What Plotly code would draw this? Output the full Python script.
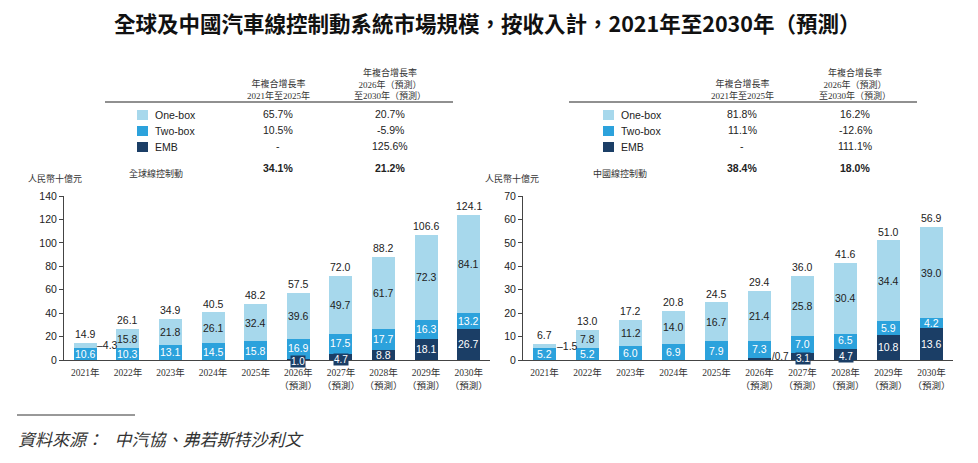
import plotly.graph_objects as go

years = ['2021年', '2022年', '2023年', '2024年', '2025年',
         '2026年<br>（預測）', '2027年<br>（預測）', '2028年<br>（預測）',
         '2029年<br>（預測）', '2030年<br>（預測）']

# 全球 (global), RMB bn
global_onebox = [4.3, 15.8, 21.8, 26.1, 32.4, 39.6, 49.7, 61.7, 72.3, 84.1]
global_twobox = [10.6, 10.3, 13.1, 14.5, 15.8, 16.9, 17.5, 17.7, 16.3, 13.2]
global_emb = [0, 0, 0, 0, 0, 1.0, 4.7, 8.8, 18.1, 26.7]
global_total = [14.9, 26.1, 34.9, 40.5, 48.2, 57.5, 72.0, 88.2, 106.6, 124.1]

# 中國 (China), RMB bn
china_onebox = [1.5, 7.8, 11.2, 14.0, 16.7, 21.4, 25.8, 30.4, 34.4, 39.0]
china_twobox = [5.2, 5.2, 6.0, 6.9, 7.9, 7.3, 7.0, 6.5, 5.9, 4.2]
china_emb = [0, 0, 0, 0, 0, 0.7, 3.1, 4.7, 10.8, 13.6]
china_total = [6.7, 13.0, 17.2, 20.8, 24.5, 29.4, 36.0, 41.6, 51.0, 56.9]

series_names = ['One-box', 'Two-box', 'EMB']
global_cagr_2125 = ['65.7%', '10.5%', '-']
global_cagr_2630 = ['20.7%', '-5.9%', '125.6%']
global_cagr_total = ['34.1%', '21.2%']
china_cagr_2125 = ['81.8%', '11.1%', '-']
china_cagr_2630 = ['16.2%', '-12.6%', '111.1%']
china_cagr_total = ['38.4%', '18.0%']

C_ONE = '#a7d8ec'
C_TWO = '#2ca2dc'
C_EMB = '#1b3e66'
W, H = 978, 463
OFF = 8  # page body margin
NUM_FONT = 'Arial, Liberation Sans, sans-serif'
SERIF = 'Liberation Serif, Noto Sans CJK TC, serif'
CJK = 'Noto Sans CJK TC, sans-serif'
LBL = 10.5


def px(x):
    return (x - OFF) / W


def py(y):
    return (H - (y - OFF)) / H


def note(x, y, text, size, color='#222', family=NUM_FONT, xanchor='center', **kw):
    annotations.append(dict(x=x, y=y, text=text, showarrow=False, xanchor=xanchor,
                            yanchor=kw.pop('yanchor', 'middle'),
                            font=dict(family=family, size=size, color=color), **kw))


fig = go.Figure()
annotations = []
shapes = []


def add_chart(xa, ya, onebox, twobox, emb, total, outside_one, outside_emb):
    for vals, col in [(emb, C_EMB), (twobox, C_TWO), (onebox, C_ONE)]:
        fig.add_trace(go.Bar(x=years, y=vals, marker_color=col, width=0.54,
                             xaxis=xa, yaxis=ya, showlegend=False,
                             marker_line_width=0))
    for i, yr in enumerate(years):
        e, t, o = emb[i], twobox[i], onebox[i]
        ref = dict(xref=xa, yref=ya)
        small = e > 0 and e < 6
        if e > 0:
            if i in outside_emb:
                note(yr, e / 2, '/' + f'{e:.1f}', 10, xanchor='left', xshift=10, yshift=3, **ref)
            elif small:
                note(yr, e / 2, f'{e:.1f}', 10, color='white', bgcolor=C_EMB, borderpad=0,
                     yshift=-2, **ref)
            else:
                note(yr, e / 2, f'{e:.1f}', LBL, color='white', **ref)
        note(yr, e + t / 2, f'{t:.1f}', LBL, color='white', yshift=1 if small else 0, **ref)
        if i in outside_one:
            note(yr, e + t + o / 2, '‒' + f'{o:.1f}', LBL, xanchor='left', xshift=10, **ref)
        else:
            note(yr, e + t + o / 2, f'{o:.1f}', LBL, **ref)
        note(yr, total[i], f'{total[i]:.1f}', LBL, yanchor='bottom', yshift=1, **ref)


add_chart('x', 'y', global_onebox, global_twobox, global_emb, global_total, [0], [])
add_chart('x2', 'y2', china_onebox, china_twobox, china_emb, china_total, [0], [5])


def add_table(x0, x1, sq_x, col1, col2, region, c1, c2, tot, unit_x):
    pp = dict(xref='paper', yref='paper')
    note(px(col1), py(89), '年複合增長率<br>2021年至2025年', 9, color='#333', family=SERIF, **pp)
    note(px(col2), py(84), '年複合增長率<br>2026年（預測）<br>至2030年（預測）', 9, color='#333',
         family=SERIF, **pp)
    shapes.append(dict(type='line', xref='paper', yref='paper', x0=px(x0), x1=px(x1),
                       y0=py(102), y1=py(102), line=dict(color='#222', width=1.2)))
    for j, (nm, col) in enumerate(zip(series_names, [C_ONE, C_TWO, C_EMB])):
        yy = [115, 131, 147][j]
        shapes.append(dict(type='rect', xref='paper', yref='paper', x0=px(sq_x), x1=px(sq_x + 11),
                           y0=py(yy + 5), y1=py(yy - 5), fillcolor=col, line_width=0))
        note(px(sq_x + 16), py(yy), nm, LBL, xanchor='left', **pp)
        note(px(col1), py(yy - 1), c1[j], LBL, **pp)
        note(px(col2), py(yy - 1), c2[j], LBL, **pp)
    note(px(x0 + 22), py(173), region, 9, color='#333', family=SERIF, xanchor='left', **pp)
    note(px(col1), py(168), '<b>' + tot[0] + '</b>', LBL, **pp)
    note(px(col2), py(168), '<b>' + tot[1] + '</b>', LBL, **pp)
    note(px(unit_x), py(178), '人民幣十億元', 9, color='#333', family=SERIF, xanchor='left', **pp)


add_table(105, 453, 137, 278, 390, '全球線控制動', global_cagr_2125, global_cagr_2630,
          global_cagr_total, 26)
add_table(569, 917, 603, 742, 855, '中國線控制動', china_cagr_2125, china_cagr_2630,
          china_cagr_total, 483)

note(px(487), py(23), '<b>全球及中國汽車線控制動系統市場規模，按收入計，2021年至2030年（預測）</b>',
     21.5, color='#111', family=CJK, xref='paper', yref='paper')
shapes.append(dict(type='line', xref='paper', yref='paper', x0=px(17), x1=px(135),
                   y0=py(415), y1=py(415), line=dict(color='#333', width=1)))
note(px(16), py(438), '<i>資料來源：   中汽協、弗若斯特沙利文</i>', 17, color='#333', family=CJK,
     xanchor='left', xref='paper', yref='paper')

axis_common = dict(showline=True, linecolor='#444', linewidth=1, showgrid=False, zeroline=False,
                   automargin=False)

fig.update_layout(
    barmode='stack',
    width=W, height=H,
    margin=dict(l=0, r=0, t=0, b=0, pad=0, autoexpand=False),
    plot_bgcolor='white', paper_bgcolor='white',
    xaxis=dict(domain=[px(64), px(490)], anchor='y', tickfont=dict(family=SERIF, size=9.5, color='#333'),
               ticks='', range=[-0.5, 9.5], ticklabelstandoff=4, **axis_common),
    yaxis=dict(domain=[py(360), py(196)], anchor='x', range=[0, 140], dtick=20, ticks='outside',
               ticklen=4, tickcolor='#444', tickfont=dict(family=NUM_FONT, size=10.5, color='#222'),
               **axis_common),
    xaxis2=dict(domain=[px(523), px(953)], anchor='y2', tickfont=dict(family=SERIF, size=9.5, color='#333'),
                ticks='', range=[-0.5, 9.5], ticklabelstandoff=4, **axis_common),
    yaxis2=dict(domain=[py(360), py(196)], anchor='x2', range=[0, 70], dtick=10, ticks='outside',
                ticklen=4, tickcolor='#444', tickfont=dict(family=NUM_FONT, size=10.5, color='#222'),
                **axis_common),
    annotations=annotations,
    shapes=shapes,
)

fig.write_html('out.html')
